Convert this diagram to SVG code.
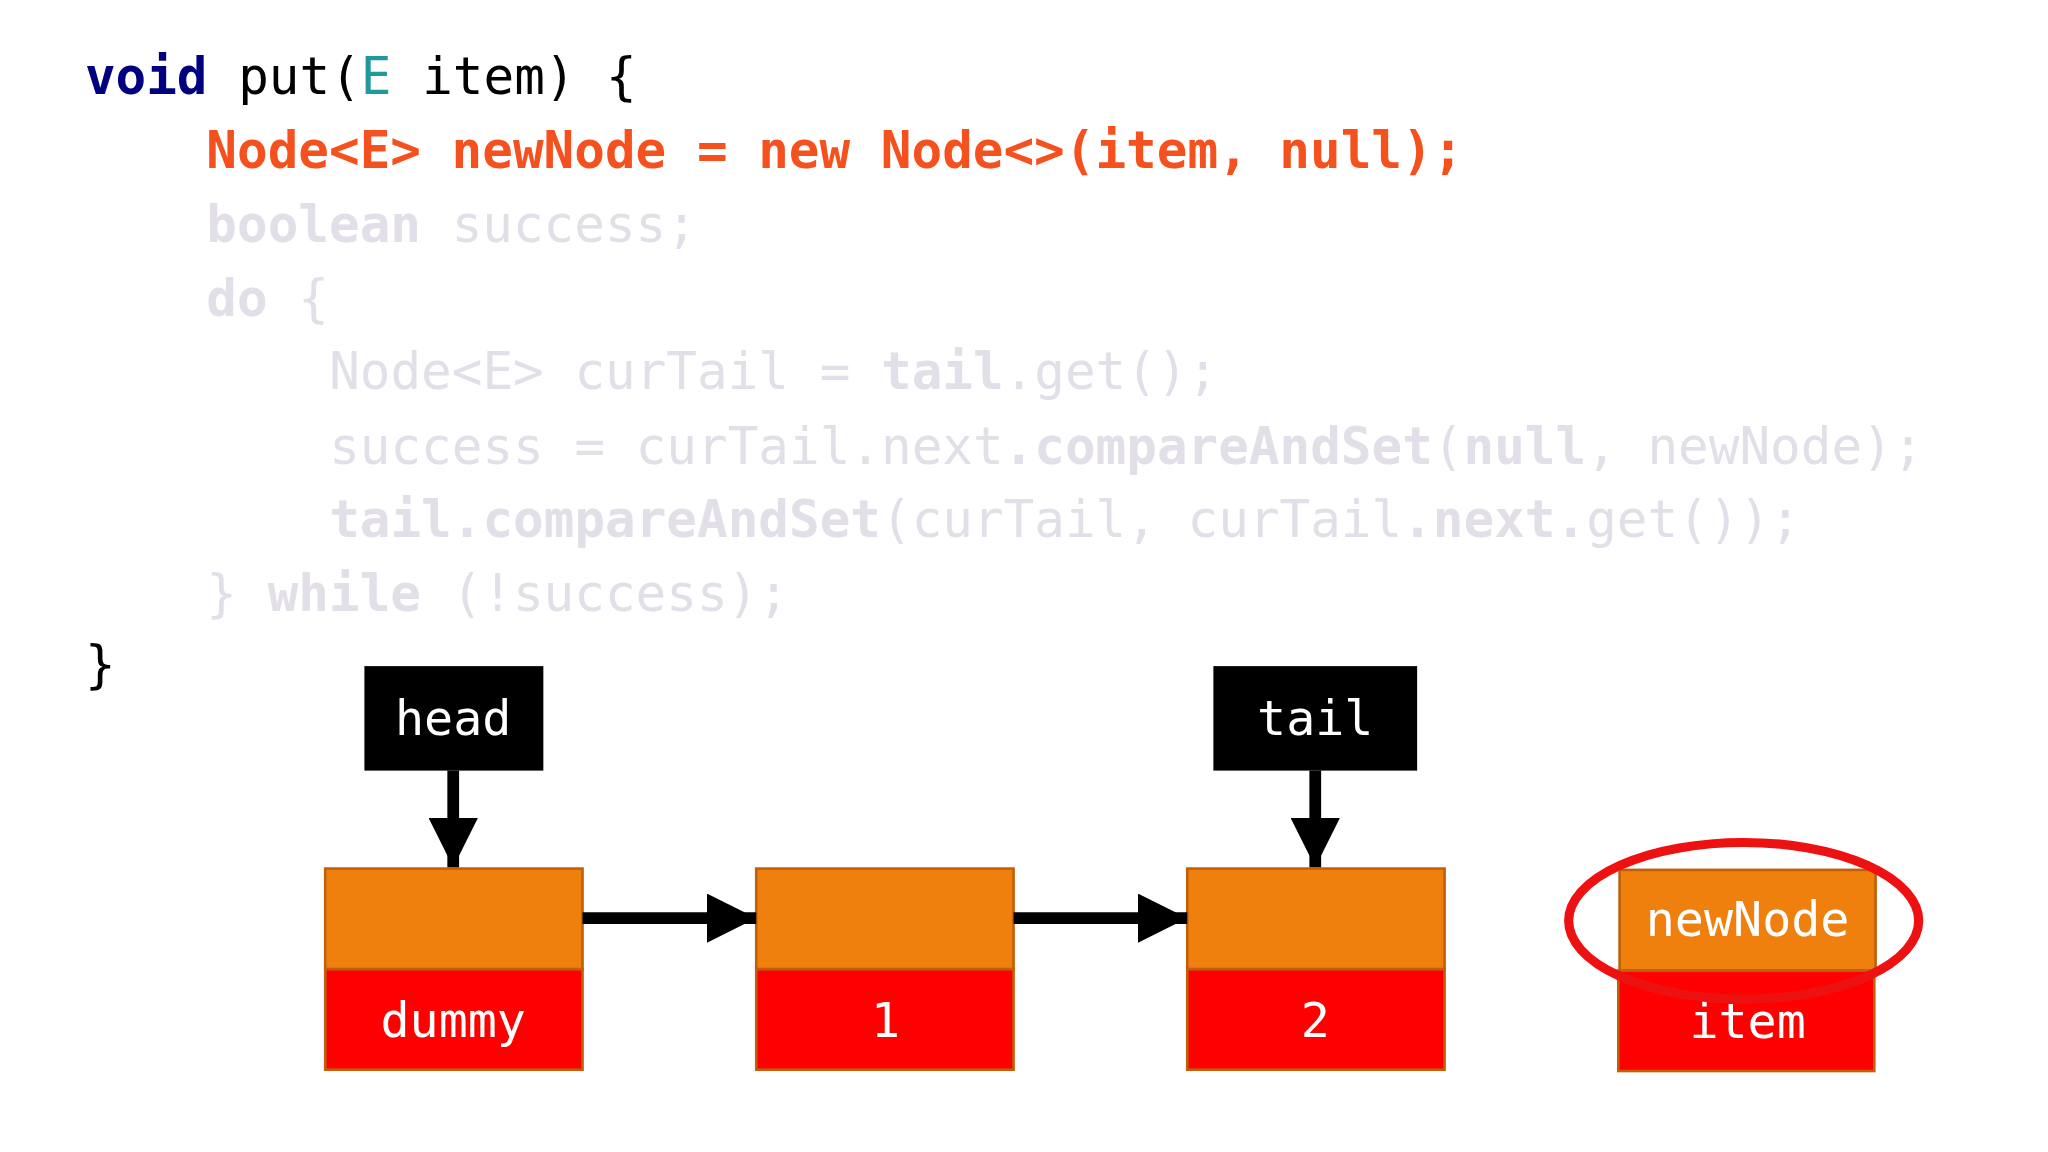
<svg xmlns="http://www.w3.org/2000/svg" width="2048" height="1152" viewBox="0 0 2048 1152">
<style>
.c{font-family:"DejaVu Sans Mono",monospace;font-size:39px;white-space:pre}
.b{font-weight:bold}
.g{fill:#e2dfe8}
.o{fill:#f4511e;font-weight:bold}
.lbl{font-family:"DejaVu Sans Mono",monospace;font-size:37px;fill:#fff;text-anchor:middle}
.top{fill:#f0800e;stroke:#c0600a;stroke-width:2}
.bot{fill:#ff0000;stroke:#c0600a;stroke-width:2}
.ptr{fill:#000}
</style>
<defs>
<marker id="ah" viewBox="0 0 10 10" refX="10" refY="5" markerWidth="4.2" markerHeight="4.2" markerUnits="strokeWidth" orient="auto"><path d="M0,0 L10,5 L0,10 Z" fill="#000"/></marker>
</defs>
<rect width="2048" height="1152" fill="#fff"/>
<g transform="scale(1.30612)">
<g id="code">
<text class="c" x="65" y="72"><tspan class="b" fill="#000080">void</tspan><tspan fill="#000"> put(</tspan><tspan fill="#20999d">E</tspan><tspan fill="#000"> item) {</tspan></text>
<text class="c o" x="158" y="129">Node&lt;E&gt; newNode = new Node&lt;&gt;(item, null);</text>
<text class="c g" x="158" y="185"><tspan class="b">boolean</tspan> success;</text>
<text class="c g" x="158" y="242"><tspan class="b">do</tspan> {</text>
<text class="c g" x="252" y="298">Node&lt;E&gt; curTail = <tspan class="b">tail</tspan>.get();</text>
<text class="c g" x="252" y="355">success = curTail.next<tspan class="b">.compareAndSet</tspan>(<tspan class="b">null</tspan>, newNode);</text>
<text class="c g" x="252" y="411"><tspan class="b">tail.compareAndSet</tspan>(curTail, curTail<tspan class="b">.next.</tspan>get());</text>
<text class="c g" x="158" y="468">} <tspan class="b">while</tspan> (!success);</text>
<text class="c" x="65" y="522" fill="#000">}</text>
</g>
<g id="head"><rect class="ptr" x="279" y="510" width="137" height="80"/><text class="lbl" x="347" y="563">head</text></g>
<g id="tail"><rect class="ptr" x="929" y="510" width="156" height="80"/><text class="lbl" x="1007" y="563">tail</text></g>
<g id="dummy"><rect class="top" x="249" y="665" width="197" height="77"/><rect class="bot" x="249" y="742" width="197" height="77"/><text class="lbl" x="347" y="794">dummy</text></g>
<g id="n1"><rect class="top" x="579" y="665" width="197" height="77"/><rect class="bot" x="579" y="742" width="197" height="77"/><text class="lbl" x="678" y="794">1</text></g>
<g id="n2"><rect class="top" x="909" y="665" width="197" height="77"/><rect class="bot" x="909" y="742" width="197" height="77"/><text class="lbl" x="1007" y="794">2</text></g>
<g id="newNode"><rect class="bot" x="1239" y="743" width="196" height="77"/><rect class="top" x="1240" y="666" width="196" height="77"/><text class="lbl" x="1338" y="717" font-size="34">newNode</text><text class="lbl" x="1338" y="795">item</text>
<ellipse cx="1335" cy="705" rx="134" ry="60" fill="none" stroke="#ee1111" stroke-width="7"/></g>
<g id="connectors" stroke="#000" stroke-width="9" fill="none">
<line x1="347" y1="590" x2="347" y2="664" marker-end="url(#ah)"/>
<line x1="1007" y1="590" x2="1007" y2="664" marker-end="url(#ah)"/>
<line x1="446" y1="703" x2="579" y2="703" marker-end="url(#ah)"/>
<line x1="776" y1="703" x2="909" y2="703" marker-end="url(#ah)"/>
</g>
</g>
</svg>
